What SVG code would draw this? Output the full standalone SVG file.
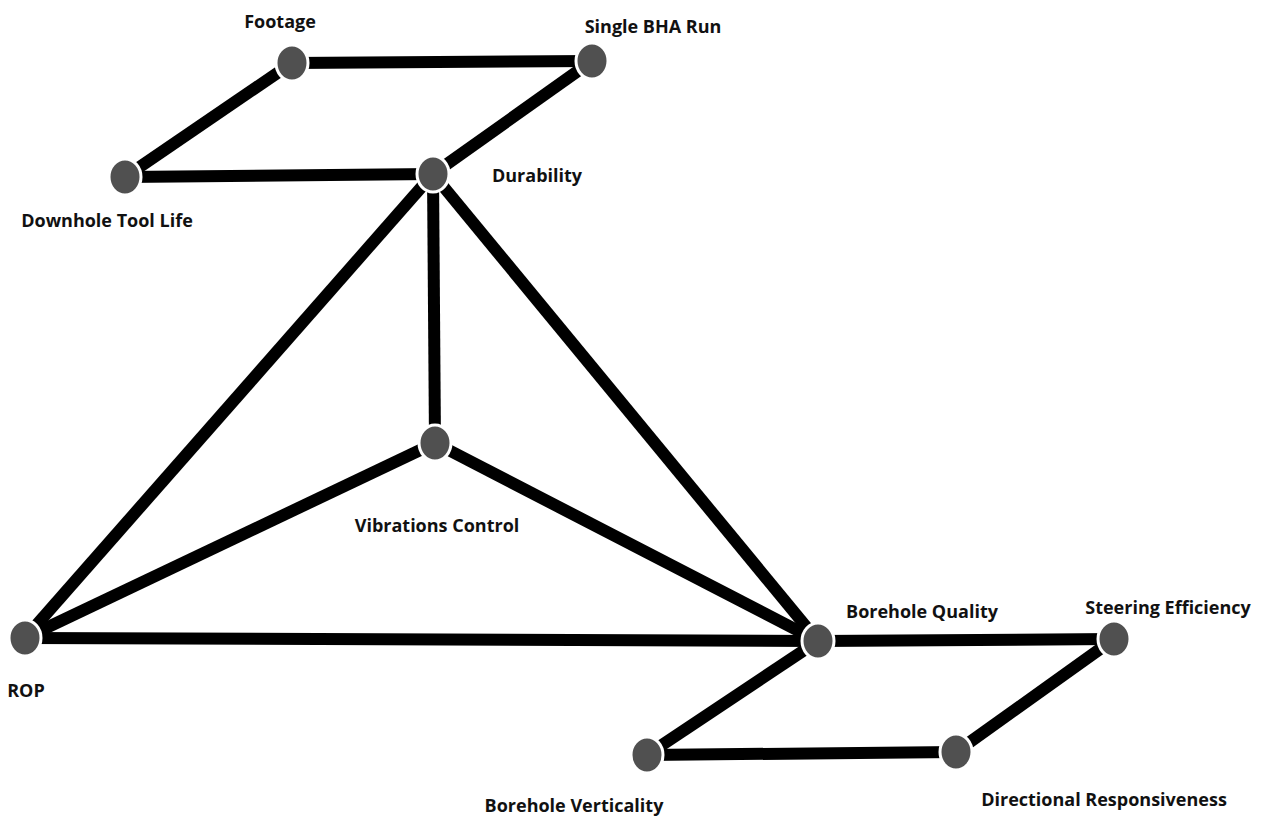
<svg xmlns="http://www.w3.org/2000/svg" width="1271" height="816" viewBox="0 0 1271 816">
<style>
.e{stroke:#000;stroke-width:12;stroke-linecap:butt;fill:none}
.n{fill:#505050;stroke:#fff;stroke-width:3}
.t{font-family:"Open Sans","Liberation Sans",sans-serif;font-weight:bold;font-size:18px;fill:#111;text-anchor:middle}
</style>
<rect width="1271" height="816" fill="#fff"/>
<g id="connectors">
<line class="e" x1="292" y1="63" x2="592" y2="61"/>
<line class="e" x1="292" y1="63" x2="125" y2="177"/>
<line class="e" x1="125" y1="177" x2="433" y2="174"/>
<line class="e" x1="592" y1="61" x2="433" y2="174"/>
<line class="e" x1="433" y1="174" x2="435" y2="443"/>
<line class="e" x1="433" y1="174" x2="25" y2="638"/>
<line class="e" x1="433" y1="174" x2="818" y2="641"/>
<line class="e" x1="435" y1="443" x2="25" y2="638"/>
<line class="e" x1="435" y1="443" x2="818" y2="641"/>
<line class="e" x1="25" y1="638" x2="818" y2="641"/>
<line class="e" x1="818" y1="641" x2="1114" y2="639"/>
<line class="e" x1="818" y1="641" x2="647" y2="755"/>
<line class="e" x1="647" y1="755" x2="956" y2="752"/>
<line class="e" x1="956" y1="752" x2="1114" y2="639"/>
</g>
<g id="footage"><ellipse class="n" cx="292" cy="63" rx="16" ry="18"/><text class="t" x="280" y="28">Footage</text></g>
<g id="single-bha-run"><ellipse class="n" cx="592" cy="61" rx="16" ry="18"/><text class="t" x="653" y="33">Single BHA Run</text></g>
<g id="durability"><ellipse class="n" cx="433" cy="174" rx="16" ry="18"/><text class="t" x="537" y="182">Durability</text></g>
<g id="downhole-tool-life"><ellipse class="n" cx="125" cy="177" rx="16" ry="18"/><text class="t" x="107" y="227">Downhole Tool Life</text></g>
<g id="vibrations-control"><ellipse class="n" cx="435" cy="443" rx="16" ry="18"/><text class="t" x="437" y="532">Vibrations Control</text></g>
<g id="rop"><ellipse class="n" cx="25" cy="638" rx="16" ry="18"/><text class="t" x="26" y="697">ROP</text></g>
<g id="borehole-quality"><ellipse class="n" cx="818" cy="641" rx="16" ry="18"/><text class="t" x="922" y="618">Borehole Quality</text></g>
<g id="steering-efficiency"><ellipse class="n" cx="1114" cy="639" rx="16" ry="18"/><text class="t" x="1168" y="614">Steering Efficiency</text></g>
<g id="directional-responsiveness"><ellipse class="n" cx="956" cy="752" rx="16" ry="18"/><text class="t" x="1104" y="806">Directional Responsiveness</text></g>
<g id="borehole-verticality"><ellipse class="n" cx="647" cy="755" rx="16" ry="18"/><text class="t" x="574" y="812">Borehole Verticality</text></g>
</svg>
